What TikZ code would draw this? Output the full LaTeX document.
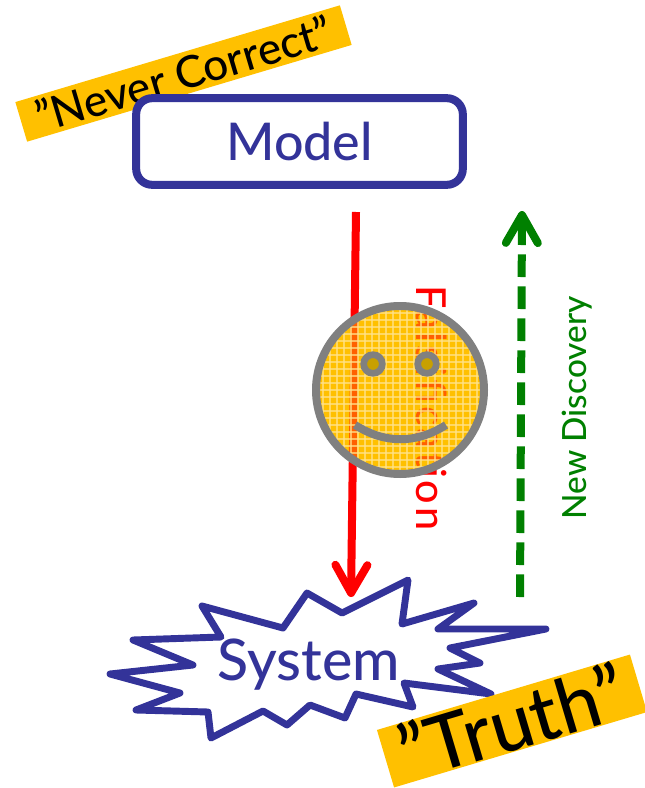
\documentclass[tikz,border=0pt]{standalone}
\usepackage{fontspec}
\setmainfont[Ligatures=ResetAll]{Lato Medium}
\usetikzlibrary{positioning,arrows.meta}
\definecolor{mdblue}{HTML}{333399}
\definecolor{mdgold}{HTML}{FFC000}
\definecolor{mdred}{HTML}{FF0000}
\definecolor{mdgreen}{HTML}{008000}
\definecolor{mdgray}{HTML}{808080}
\definecolor{mdeye}{HTML}{C8A000}
\tikzset{
  banner/.style ={fill=mdgold, inner sep=0pt, rotate=16.6, text=black},
  modelbox/.style={draw=mdblue, line width=6pt, rounded corners=12pt, fill=white,
                  minimum width=245pt, minimum height=65pt, inner sep=0pt,
                  text=mdblue, font=\fontsize{39}{42}\selectfont},
  sysline/.style ={draw=mdblue, line width=5.2pt, line join=round, fill=white},
  systext/.style ={text=mdblue, font=\fontsize{43}{46}\selectfont, inner sep=0pt},
  falsearrow/.style={mdred, line width=6pt,
                  -{Straight Barb[length=21pt, width=24pt, line width=6pt, round]}},
  newarrow/.style ={mdgreen, line width=6pt, dash pattern=on 17pt off 7pt,
                  -{Straight Barb[length=21pt, width=24pt, line width=6pt, round]}},
  sidelabel/.style={inner sep=0pt},
  face/.style   ={circle, draw=mdgray, line width=6pt, minimum size=126pt, inner sep=0pt},
  eye/.style    ={circle, draw=mdgray, line width=5pt, fill=mdeye, minimum size=14pt, inner sep=0pt},
  weave/.style  ={mdgold!45!white, line width=0.9pt, opacity=.7},
}
\begin{document}
\begin{tikzpicture}[x=0.75pt,y=-0.75pt]
  \useasboundingbox (0,0) rectangle (645,788);
  \node[banner, minimum width=254pt, minimum height=31pt, font=\fontsize{33}{35}\selectfont]
    (never) at (183.5,73.5) {"Never Correct"};
  \node[modelbox] (model) at (299.5,141.5) {\raisebox{-2pt}{Model}};
  % solid disc goes under the arrow and label
  \fill[mdgold] (400,390) circle (84);
  % arrows stop short of the boxes
  \coordinate (falsetop) at (356,212);
  \coordinate (falseend) at (351,597);
  \coordinate (newstart) at (520,597);
  \coordinate (newend) at (522,211);
  \draw[falsearrow] (falsetop) -- (falseend);
  \draw[newarrow] (newstart) -- (newend);
  \node[sidelabel, text=mdred, rotate=-90, font=\fontsize{31}{33}\selectfont\addfontfeature{LetterSpace=7}]
    (falsify) at (432,408) {Falsification};
  \node[sidelabel, text=mdgreen, rotate=90, font=\fontsize{25}{27}\selectfont]
    (discovery) at (577,408) {New Discovery};
  % star round the system label
  \draw[sysline] (110,674)--(193,665)--(133,640)--(221,637)--(202,606)--(283,628)--(307,593)
    --(342,613)--(408,580)--(402,624)--(474,603)--(438,629)--(546,629)--(450,648)--(480,663)
    --(438,669)--(491,694)--(404,683)--(413,707)--(356,694)--(345,718)--(310,705)--(287,725)
    --(263,711)--(211,738)--(208,712)--(136,710)--(180,693)--cycle;
  \node[systext] (system) at (309,665) {System};
  \node[banner, minimum width=198pt, minimum height=45pt, font=\fontsize{57}{60}\selectfont]
    (truth) at (512,721) {"Truth"};
  % smiley on top, the arrow and label show through
  \fill[mdgold, fill opacity=.5] (400,390) circle (84);
  \begin{scope}
    \clip (400,390) circle (84);
    \foreach \xx in {316,323,...,484}{
      \draw[weave] (\xx,306) -- (\xx,474);
      \draw[weave] (316,\xx-10) -- (484,\xx-10);}
  \end{scope}
  \node[face] (smile) at (400,390) {};
  \node[eye] (lefteye) at (373,364) {};
  \node[eye] (righteye) at (427,364) {};
  \coordinate (mouthl) at (355,425);
  \coordinate (mouthr) at (446,425);
  \draw[mdgray, line width=6pt] (mouthl) .. controls (385,444) and (416,444) .. (mouthr);
\end{tikzpicture}
\end{document}
